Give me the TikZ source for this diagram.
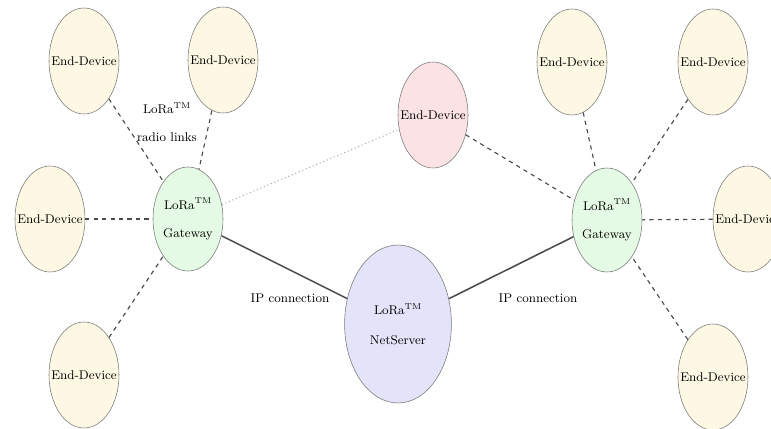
\documentclass[tikz,border=0pt]{standalone}
\usepackage{xcolor}
\usetikzlibrary{shapes.geometric,positioning}
\definecolor{Cream}{HTML}{FDF8E3}
\definecolor{Mint}{HTML}{E4FAE4}
\definecolor{Blush}{HTML}{FBE2E5}
\definecolor{Lavender}{HTML}{E3E3FA}
\definecolor{Rim}{HTML}{7A7A7A}
\definecolor{Wire}{HTML}{4A4A4A}
\begin{document}
\begin{tikzpicture}[font=\small,device/.style={ellipse,draw=Rim,fill=Cream,inner sep=-2mm,minimum width=1.75cm,minimum height=2.65cm,align=center},gateway/.style={device,fill=Mint,minimum height=2.6cm},server/.style={device,fill=Lavender,minimum width=2.67cm,minimum height=3.95cm},radiolink/.style={draw=Wire,dashed,line width=0.8pt},iplink/.style={draw=Wire,line width=1.1pt},weaklink/.style={draw=Rim!70,dotted,line width=0.7pt},caption/.style={align=center}]
\useasboundingbox[fill=white] (0,0) rectangle (19.275,10.7);
\node[device] (edNW) at (2.1,9.175){End-Device};
\node[device] (edN) at (5.575,9.2){End-Device};
\node[device] (edW) at (1.25,5.225){End-Device};
\node[device] (edSW) at (2.1,1.325){End-Device};
\node[gateway] (gwLeft) at (4.7,5.225){LoRa\textsuperscript{TM}\\[9pt]Gateway};
\node[device,fill=Blush] (edMid) at (10.825,7.825){End-Device};
\node[server] (srv) at (9.95,2.6){LoRa\textsuperscript{TM}\\[10pt]NetServer};
\node[gateway] (gwRight) at (15.175,5.2){LoRa\textsuperscript{TM}\\[9pt]Gateway};
\node[device] (edNE1) at (14.3,9.15){End-Device};
\node[device] (edNE2) at (17.825,9.15){End-Device};
\node[device] (edE) at (18.7,5.225){End-Device};
\node[device] (edSE) at (17.825,1.275){End-Device};
\node[caption] (radioTxt) at (4.175,7.65){LoRa\textsuperscript{TM}\\[9pt]radio links};
\node[caption] (ipLeft) at (7.25,3.25){IP connection};
\node[caption] (ipRight) at (13.45,3.25){IP connection};
\foreach \d in {edNW,edN,edW,edSW} \draw[radiolink] (\d) -- (gwLeft);
\foreach \d in {edNE1,edNE2,edE,edSE,edMid} \draw[radiolink] (\d) -- (gwRight);
\draw[weaklink] (gwLeft) -- (edMid);
\draw[iplink] (gwLeft) -- (srv);
\draw[iplink] (srv) -- (gwRight);
\end{tikzpicture}
\end{document}
